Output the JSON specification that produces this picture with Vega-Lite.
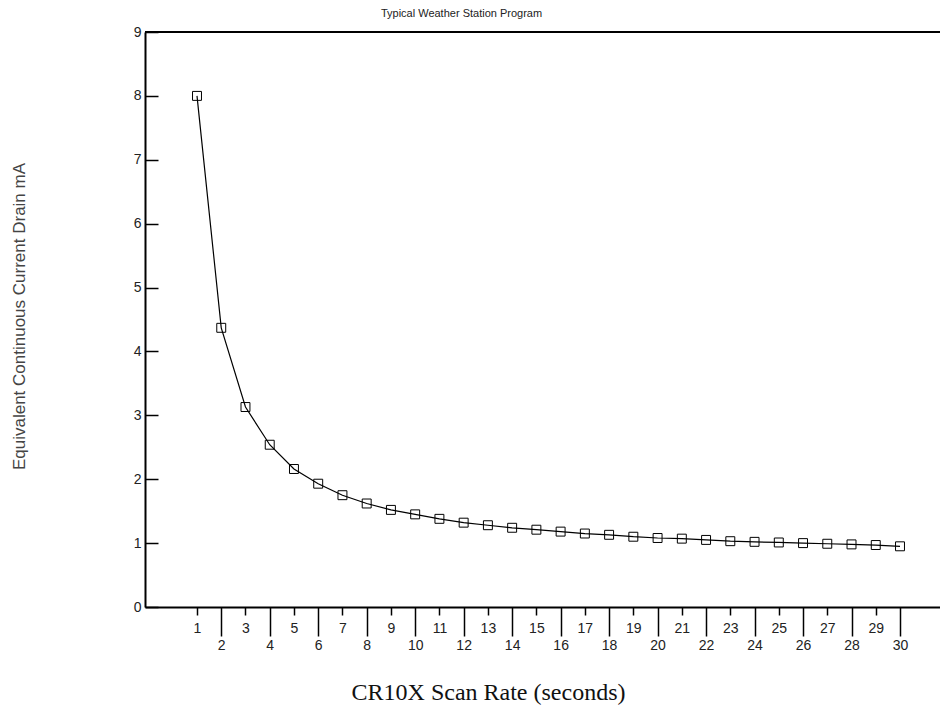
{
  "$schema": "https://vega.github.io/schema/vega-lite/v6.json",
  "width": 795,
  "height": 575,
  "autosize": {"type": "none"},
  "padding": {"left": 145, "top": 32, "right": 0, "bottom": 104},
  "background": "white",
  "config": {"view": {"stroke": null}, "font": "Liberation Sans"},
  "title": {"text": "Typical Weather Station Program", "fontSize": 11, "fontWeight": "normal", "font": "Liberation Sans", "color": "#222", "anchor": "middle", "dx": -81, "offset": 6},
  "data": {"values": [
    {"rate": 1, "mA": 8.0}, {"rate": 2, "mA": 4.37}, {"rate": 3, "mA": 3.13}, {"rate": 4, "mA": 2.54},
    {"rate": 5, "mA": 2.16}, {"rate": 6, "mA": 1.93}, {"rate": 7, "mA": 1.75}, {"rate": 8, "mA": 1.62},
    {"rate": 9, "mA": 1.52}, {"rate": 10, "mA": 1.45}, {"rate": 11, "mA": 1.38}, {"rate": 12, "mA": 1.32},
    {"rate": 13, "mA": 1.28}, {"rate": 14, "mA": 1.24}, {"rate": 15, "mA": 1.21}, {"rate": 16, "mA": 1.18},
    {"rate": 17, "mA": 1.15}, {"rate": 18, "mA": 1.13}, {"rate": 19, "mA": 1.10}, {"rate": 20, "mA": 1.08},
    {"rate": 21, "mA": 1.07}, {"rate": 22, "mA": 1.05}, {"rate": 23, "mA": 1.03}, {"rate": 24, "mA": 1.02},
    {"rate": 25, "mA": 1.01}, {"rate": 26, "mA": 1.0}, {"rate": 27, "mA": 0.99}, {"rate": 28, "mA": 0.98},
    {"rate": 29, "mA": 0.97}, {"rate": 30, "mA": 0.95}
  ]},
  "encoding": {
    "x": {"field": "rate", "type": "quantitative",
      "scale": {"domain": [-1.145, 31.65], "nice": false, "zero": false},
      "axis": {
        "values": [1,2,3,4,5,6,7,8,9,10,11,12,13,14,15,16,17,18,19,20,21,22,23,24,25,26,27,28,29,30],
        "grid": false,
        "domainColor": "black", "domainWidth": 2,
        "tickColor": "black", "tickWidth": 1.5,
        "tickSize": {"condition": {"test": "datum.value % 2 === 0", "value": 29}, "value": 8},
        "labelPadding": {"condition": {"test": "datum.value % 2 === 0", "value": 2}, "value": 6},
        "labelFont": "Liberation Sans", "labelFontSize": 14, "labelColor": "#222",
        "labelOverlap": false, "labelFlush": false,
        "title": "CR10X Scan Rate (seconds)",
        "titleFont": "Liberation Serif", "titleFontSize": 24, "titleFontWeight": "normal", "titleColor": "#111",
        "titleX": 343, "titleY": 85, "titleAlign": "center", "titleBaseline": "middle", "titleAnchor": "start"
      }
    },
    "y": {"field": "mA", "type": "quantitative",
      "scale": {"domain": [0, 9], "nice": false},
      "axis": {
        "values": [0,1,2,3,4,5,6,7,8,9],
        "grid": false,
        "domainColor": "black", "domainWidth": 2,
        "tickColor": "black", "tickWidth": 1.5, "tickSize": -13,
        "labelPadding": 17,
        "labelFont": "Liberation Sans", "labelFontSize": 14, "labelColor": "#222",
        "labelOverlap": false, "labelFlush": false,
        "title": "Equivalent Continuous Current Drain mA",
        "titleFont": "Liberation Sans", "titleFontSize": 17, "titleFontWeight": "normal", "titleColor": "#444",
        "titleX": -126, "titleY": 284, "titleAlign": "center", "titleBaseline": "middle", "titleAnchor": "start", "titleAngle": 270
      }
    }
  },
  "layer": [
    {
      "mark": {"type": "line", "color": "black", "strokeWidth": 1.2}
    },
    {
      "mark": {"type": "point", "shape": "square", "size": 80, "filled": false, "color": "black", "strokeWidth": 1, "opacity": 1}
    },
    {
      "mark": {"type": "rule", "color": "black", "strokeWidth": 2},
      "encoding": {"x": {"value": 0}, "x2": {"value": 795}, "y": {"datum": 9, "type": "quantitative"}}
    }
  ]
}
